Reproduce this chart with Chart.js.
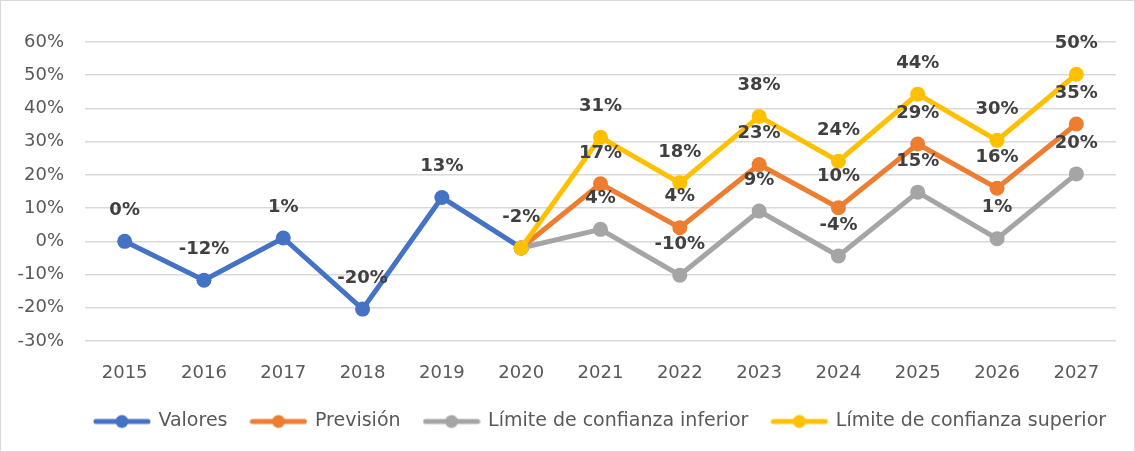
<!DOCTYPE html>
<html>
<head>
<meta charset="utf-8">
<script src="https://cdn.jsdelivr.net/npm/chart.js@4/dist/chart.umd.min.js"></script>
<style>
  html, body { margin: 0; padding: 0; background: #fff; }
  #wrap { position: relative; width: 1133px; height: 450px; border: 1px solid #d9d9d9; }
</style>
</head>
<body>
<div id="wrap"><canvas id="chart" width="1133" height="450"></canvas></div>
<script>
/* Excel-style forecast line chart */

const years = ["2015", "2016", "2017", "2018", "2019", "2020", "2021", "2022", "2023", "2024", "2025", "2026", "2027"];
const valores = [0, -0.117, 0.01, -0.204, 0.132, -0.02, null, null, null, null, null, null, null];
const prevision = [null, null, null, null, null, -0.02, 0.173, 0.041, 0.231, 0.101, 0.293, 0.16, 0.353];
const limiteInferior = [null, null, null, null, null, -0.02, 0.036, -0.102, 0.091, -0.044, 0.148, 0.008, 0.203];
const limiteSuperior = [null, null, null, null, null, -0.02, 0.313, 0.176, 0.376, 0.241, 0.443, 0.304, 0.503];
const yTicks = [-0.3, -0.2, -0.1, 0, 0.1, 0.2, 0.3, 0.4, 0.5, 0.6];

const seriesNames = ["Valores", "Previsión", "Límite de confianza inferior", "Límite de confianza superior"];
const seriesColors = ["#4472C4", "#ED7D31", "#A5A5A5", "#FFC000"];
const FONT = "'DejaVu Sans', sans-serif";

function legendSwatch(color) {
    // small line-with-dot marker for the legend
    const c = document.createElement("canvas");
    c.width = 58;
    c.height = 16;
    const g = c.getContext("2d");
    g.strokeStyle = color;
    g.lineWidth = 5;
    g.lineCap = "round";
    g.beginPath();
    g.moveTo(3, 8);
    g.lineTo(55, 8);
    g.stroke();
    g.fillStyle = color;
    g.beginPath();
    g.arc(29, 8, 6.5, 0, Math.PI * 2);
    g.fill();
    return c;
}
const swatches = seriesColors.map(legendSwatch);

function pct(v) {
    return Math.round(v * 100) + "%";
}

// draws the value labels above each point
const pointLabels = {
    id: "pointLabels",
    afterDatasetsDraw(chart) {
        const ctx = chart.ctx;
        ctx.save();
        ctx.font = "bold 18px " + FONT;
        ctx.fillStyle = "#404040";
        ctx.textAlign = "center";
        ctx.textBaseline = "middle";
        chart.data.datasets.forEach((ds, di) => {
            const meta = chart.getDatasetMeta(di);
            ds.data.forEach((v, i) => {
                if (v === null) return;
                if (di > 0 && i === 5) return; // forecast start shares the last real value
                const pt = meta.data[i];
                ctx.fillText(pct(v), pt.x, pt.y - 31);
            });
        });
        ctx.restore();
    }
};

// centre the legend under the plot area instead of the whole canvas
const legendShift = {
    id: "legendShift",
    afterLayout(chart) {
        const lg = chart.legend;
        if (!lg) return;
        const shift = (chart.chartArea.left + chart.chartArea.right) / 2 - (lg.left + lg.right) / 2;
        lg.left += shift;
        lg.right += shift;
    }
};

const allSeries = [valores, prevision, limiteInferior, limiteSuperior];
const datasets = allSeries.map((data, i) => ({
    label: seriesNames[i],
    data: data,
    borderColor: seriesColors[i],
    backgroundColor: seriesColors[i],
    pointBackgroundColor: seriesColors[i],
    pointBorderColor: seriesColors[i],
    pointRadius: 7.5,
    pointHoverRadius: 7.5,
    pointBorderWidth: 0,
    borderWidth: 5,
    tension: 0,
    spanGaps: false,
    order: allSeries.length - i
}));

new Chart(document.getElementById("chart"), {
    type: "line",
    data: { labels: years, datasets },
    plugins: [pointLabels, legendShift],
    options: {
        responsive: false,
        animation: false,
        layout: { padding: { left: 0, right: 18, top: 41, bottom: 10 } },
        plugins: {
            tooltip: { enabled: false },
            legend: {
                position: "bottom",
                labels: {
                    usePointStyle: true,
                    pointStyleWidth: 54,
                    padding: 24,
                    color: "#595959",
                    font: { family: FONT, size: 19 },
                    sort: (a, b) => a.datasetIndex - b.datasetIndex,
                    generateLabels(chart) {
                        const items = Chart.defaults.plugins.legend.labels.generateLabels(chart);
                        items.forEach(it => { it.pointStyle = swatches[it.datasetIndex]; });
                        return items;
                    }
                }
            }
        },
        scales: {
            x: {
                offset: true,
                grid: { display: false, drawTicks: false },
                border: { display: false },
                afterFit(scale) {
                    scale.height = 47;
                },
                ticks: {
                    color: "#595959",
                    font: { family: FONT, size: 18 },
                    padding: 22,
                    maxRotation: 0
                }
            },
            y: {
                min: -0.3,
                max: 0.6,
                afterBuildTicks(scale) {
                    scale.ticks = yTicks.map(v => ({ value: v }));
                },
                afterFit(scale) {
                    scale.width = 84;
                },
                grid: { color: "#d9d9d9", lineWidth: 1.5, drawTicks: false },
                border: { display: false },
                ticks: {
                    color: "#595959",
                    font: { family: FONT, size: 18 },
                    padding: 21,
                    callback: v => pct(v)
                }
            }
        }
    }
});
</script>
</body>
</html>
